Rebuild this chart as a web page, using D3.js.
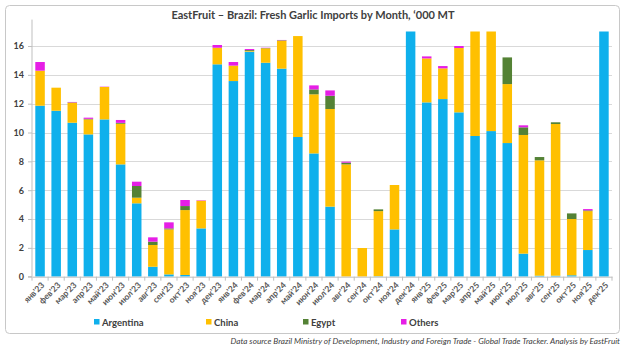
<!DOCTYPE html>
<html><head><meta charset="utf-8">
<script src="https://cdn.jsdelivr.net/npm/d3@7"></script>
<style>body{margin:0;background:#fff;} svg{display:block;}</style>
</head><body>
<svg id="c" width="626" height="352"></svg>
<script>
const months = ["янв'23","фев'23","мар'23","апр'23","май'23","июн'23","июл'23","авг'23","сен'23","окт'23","ноя'23","дек'23",
"янв'24","фев'24","мар'24","апр'24","май'24","июн'24","июл'24","авг'24","сен'24","окт'24","ноя'24","дек'24",
"янв'25","фев'25","мар'25","апр'25","май'25","июн'25","июл'25","авг'25","сен'25","окт'25","ноя'25","дек'25"];
const argentina = [11.86,11.51,10.68,9.87,10.91,7.79,5.09,0.69,0.16,0.12,3.35,14.73,
13.57,15.61,14.84,14.43,9.69,8.55,4.86,0,0,0.03,3.28,19.5,
12.09,12.32,11.40,9.76,10.10,9.27,1.60,0.07,0.07,0.10,1.85,19.0];
const china = [2.43,1.60,1.39,1.04,2.25,2.82,0.39,1.51,3.12,4.50,1.92,1.15,
1.07,0.05,1.00,1.94,7.00,4.10,6.77,7.79,1.99,4.52,3.08,0,
3.05,2.13,4.46,9.0,9.5,4.09,8.23,8.00,10.52,3.90,2.70,0];
const egypt = [0,0,0.02,0.04,0,0.06,0.81,0.23,0.07,0.28,0,0,
0,0.06,0.02,0.03,0,0.34,0.92,0.12,0,0.12,0,0,
0,0,0,0,0,1.85,0.53,0.23,0.12,0.39,0.05,0];
const others = [0.60,0,0.03,0.08,0.02,0.20,0.30,0.30,0.42,0.42,0.03,0.19,
0.25,0.07,0.02,0.02,0,0.28,0.37,0.07,0,0,0,0,
0.14,0.16,0.14,0,0,0,0.14,0,0,0,0.09,0];
const yTicks = [0,2,4,6,8,10,12,14,16];
const seriesNames = ["Argentina","China","Egypt","Others"];
const colors = ["#0fb0ec","#ffc000","#548235","#e61ee6"];

const svg = d3.select("#c");
svg.append("rect").attr("x",5.5).attr("y",5.5).attr("width",614).attr("height",328)
  .attr("rx",4).attr("fill","#fff").attr("stroke","#c8c8c8").attr("stroke-width",1);

const m = {l:32, r:612, t:31.6, b:276.7};
const x = d3.scaleBand().domain(months).range([m.l,m.r]).paddingInner(0.41).paddingOuter(0.205);
const y = d3.scaleLinear().domain([0,17]).range([m.b,m.t]);

svg.append("text").attr("x",313).attr("y",19).attr("text-anchor","middle")
  .attr("font-family","Lato, 'Open Sans', sans-serif").attr("font-weight","bold")
  .attr("font-size",11).attr("fill","#404040")
  .text("EastFruit – Brazil: Fresh Garlic Imports by Month, ‘000 MT");

// grid
svg.append("g").selectAll("line").data(yTicks.filter(d=>d>0)).join("line")
  .attr("x1",m.l).attr("x2",m.r).attr("y1",d=>Math.round(y(d))+0.5).attr("y2",d=>Math.round(y(d))+0.5)
  .attr("stroke","#d9d9d9").attr("stroke-width",1);

const data = months.map((mo,i)=>({m:mo,Argentina:argentina[i],China:china[i],Egypt:egypt[i],Others:others[i]}));
const stack = d3.stack().keys(seriesNames)(data);

svg.append("defs").append("clipPath").attr("id","clip").append("rect")
  .attr("x",m.l).attr("y",m.t).attr("width",m.r-m.l).attr("height",m.b-m.t);

const gb = svg.append("g").attr("clip-path","url(#clip)");
stack.forEach((s,si)=>{
  gb.append("g").attr("fill",colors[si]).selectAll("rect").data(s).join("rect")
    .attr("x",d=>x(d.data.m)).attr("width",x.bandwidth())
    .attr("y",d=>y(d[1])).attr("height",d=>Math.max(0,y(d[0])-y(d[1])));
});

// y axis
const ya = svg.append("g").attr("transform",`translate(${m.l},0)`)
  .call(d3.axisLeft(y).tickValues(yTicks).tickSize(4).tickFormat(d3.format("d")));
ya.select(".domain").attr("stroke","#bfbfbf").attr("d",`M-4,${m.b}H0V${m.t-12}`);
ya.selectAll(".tick line").attr("stroke","#bfbfbf");
ya.selectAll(".tick text").attr("font-family","Lato, 'Open Sans', sans-serif").attr("font-weight","bold")
  .attr("font-size",9).attr("fill","#404040").attr("x",-8);

// x axis
const xa = svg.append("g").attr("transform",`translate(0,${m.b})`)
  .call(d3.axisBottom(x).tickSize(0));
xa.select(".domain").attr("stroke","#bfbfbf");
xa.append("g").selectAll("line").data(d3.range(months.length+1)).join("line")
  .attr("x1",i=>m.l+i*(m.r-m.l)/months.length).attr("x2",i=>m.l+i*(m.r-m.l)/months.length)
  .attr("y1",0).attr("y2",4).attr("stroke","#bfbfbf");
xa.selectAll(".tick text").attr("font-family","Lato, 'Open Sans', sans-serif").attr("font-weight","bold")
  .attr("font-size",8.5).attr("fill","#595959")
  .attr("text-anchor","end").attr("dy",0).attr("y",0)
  .attr("transform","translate(5,9) rotate(-45)");

// legend
const lx = [94,206,303,401];
const lg = svg.append("g");
seriesNames.forEach((n,i)=>{
  lg.append("rect").attr("x",lx[i]).attr("y",319).attr("width",5.5).attr("height",5.5).attr("fill",colors[i]);
  lg.append("text").attr("x",lx[i]+8).attr("y",325.5).attr("font-family","Lato, 'Open Sans', sans-serif")
    .attr("font-weight","bold").attr("font-size",9.5).attr("fill","#404040").text(n);
});

svg.append("text").attr("x",620).attr("y",344).attr("text-anchor","end")
  .attr("font-family","Lato, 'Open Sans', sans-serif").attr("font-style","italic")
  .attr("font-size",8.2).attr("fill","#404040")
  .text("Data source Brazil Ministry of Development, Industry and Foreign Trade - Global Trade Tracker. Analysis by EastFruit");
</script>
</body></html>
